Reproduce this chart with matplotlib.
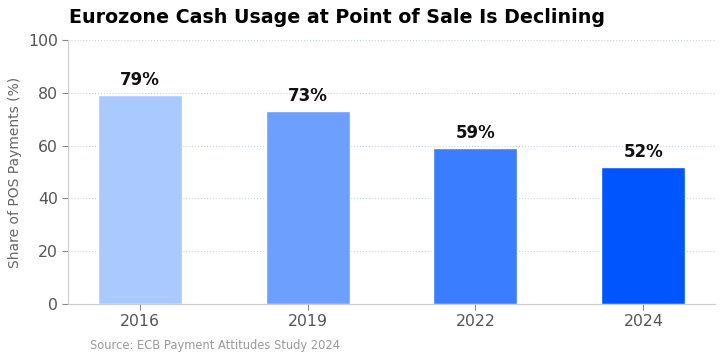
import matplotlib.pyplot as plt

years = ['2016', '2019', '2022', '2024']
cash_share = [79, 73, 59, 52]
bar_colors = ['#a9c9ff', '#6d9fff', '#3a7eff', '#0055ff']

fig, ax = plt.subplots(figsize=(7.25, 3.62), dpi=100)
fig.subplots_adjust(left=0.094, right=0.986, top=0.89, bottom=0.16)

x = range(len(years))
ax.bar(x, cash_share, width=0.5, color=bar_colors, edgecolor='white', linewidth=1, zorder=3)
for i, v in zip(x, cash_share):
    ax.text(i, v + 2.3, f'{v}%', ha='center', va='bottom', fontsize=12,
            fontweight='bold', color='#111111')

ax.set_xticks(list(x))
ax.set_xticklabels(years)
ax.set_ylim(0, 100)
ax.set_yticks([0, 20, 40, 60, 80, 100])
ax.set_ylabel('Share of POS Payments (%)', fontsize=10, color='#666666')
ax.tick_params(axis='both', labelsize=11.3, colors='#555555', length=4)
ax.tick_params(axis='both', color='#888888')
ax.grid(axis='y', linestyle=':', color='#c8d4dc', linewidth=0.8, zorder=0)
for s in ['top', 'right']:
    ax.spines[s].set_visible(False)
for s in ['left', 'bottom']:
    ax.spines[s].set_color('#cccccc')

fig.text(0.095, 0.952, 'Eurozone Cash Usage at Point of Sale Is Declining',
         fontsize=13.7, fontweight='bold', ha='left', va='center')
fig.text(0.124, 0.045, 'Source: ECB Payment Attitudes Study 2024',
         fontsize=8.3, color='#999999', ha='left', va='center')

fig.savefig('out.png')
